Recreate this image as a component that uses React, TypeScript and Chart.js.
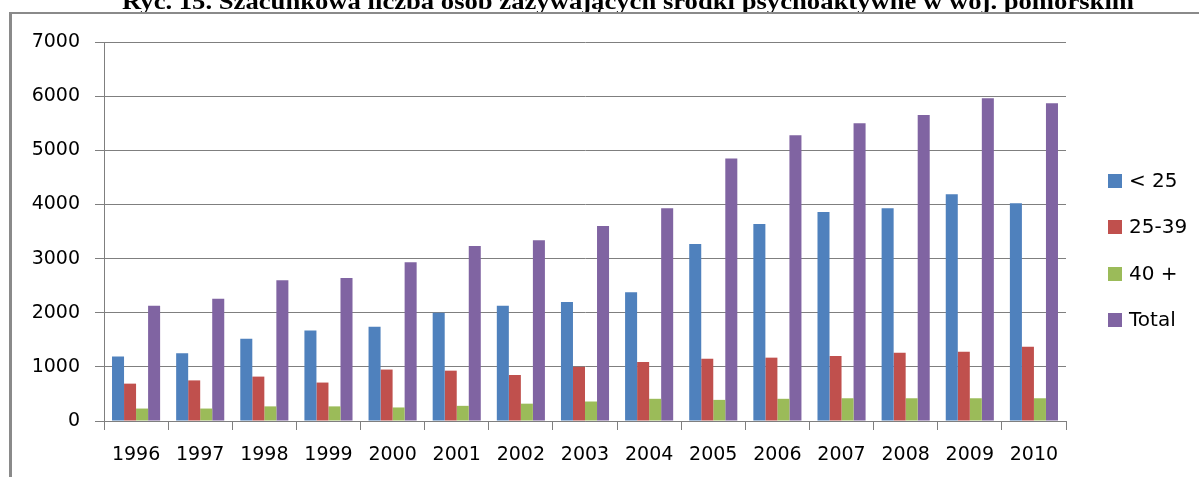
import React, { useEffect, useRef } from "react";
import { Chart, registerables } from "chart.js";

Chart.register(...registerables);

const TITLE = "Ryc. 15. Szacunkowa liczba osób zażywających środki psychoaktywne w woj. pomorskim";

const years = ["1996", "1997", "1998", "1999", "2000", "2001", "2002", "2003", "2004", "2005", "2006", "2007", "2008", "2009", "2010"];
const seriesNames = ["< 25", "25-39", "40 +", "Total"];
const under25 = [1190, 1250, 1520, 1670, 1740, 2000, 2130, 2200, 2380, 3270, 3640, 3860, 3930, 4190, 4020];
const age25to39 = [690, 750, 820, 710, 950, 930, 850, 1000, 1090, 1150, 1170, 1200, 1260, 1280, 1370];
const age40plus = [230, 230, 270, 270, 250, 280, 320, 360, 410, 390, 410, 420, 420, 420, 420];
const total = [2130, 2260, 2600, 2640, 2930, 3230, 3340, 3600, 3930, 4850, 5280, 5500, 5650, 5960, 5870];
const seriesColors = ["#4F81BD", "#C0504D", "#9BBB59", "#8064A2"];
const yMin = 0;
const yMax = 7000;
const yStep = 1000;

const GRID = "#7f7f7f";
const FONT = "DejaVu Sans";

const decorPlugin = {
  id: "decor",
  afterDraw(chart: any) {
    const ctx = chart.ctx as CanvasRenderingContext2D;
    // title (clipped at top, as in the reference)
    ctx.save();
    ctx.font = 'bold 24px "Liberation Serif"';
    const w = ctx.measureText(TITLE).width;
    ctx.translate(628, 8.5);
    ctx.scale(1012 / w, 1);
    ctx.fillStyle = "#000";
    ctx.textAlign = "center";
    ctx.textBaseline = "alphabetic";
    ctx.fillText(TITLE, 0, 0);
    ctx.restore();
    // frame
    ctx.save();
    ctx.fillStyle = "#8a8a8a";
    ctx.fillRect(9, 12, 1190, 2);
    ctx.fillRect(9, 12, 3, 465);
    // legend
    ctx.font = `20px "${FONT}"`;
    ctx.textBaseline = "middle";
    ctx.textAlign = "left";
    chart.data.datasets.forEach((ds: any, i: number) => {
      const cy = 180.5 + i * 46.5;
      ctx.fillStyle = ds.backgroundColor;
      ctx.fillRect(1108, Math.round(cy - 7), 14, 14);
      ctx.fillStyle = "#000";
      ctx.fillText(ds.label, 1129, cy + 1);
    });
    ctx.restore();
  },
};

export default function App() {
  const ref = useRef<HTMLCanvasElement | null>(null);
  useEffect(() => {
    if (!ref.current) return;
    const seriesData = [under25, age25to39, age40plus, total];
    const chart = new Chart(ref.current, {
      type: "bar",
      data: {
        labels: years,
        datasets: seriesNames.map((name, i) => ({
          label: name,
          data: seriesData[i],
          backgroundColor: seriesColors[i],
          borderWidth: 0,
          categoryPercentage: 0.75,
          barPercentage: 1,
        })),
      },
      options: {
        responsive: false,
        animation: false,
        layout: { padding: { top: 42, left: 0, right: 133, bottom: 0 } },
        plugins: {
          legend: { display: false },
          title: { display: false },
          tooltip: { enabled: false },
        },
        scales: {
          x: {
            grid: { display: true, drawOnChartArea: false, drawTicks: true, tickLength: 9, color: GRID, offset: true },
            border: { display: true, color: GRID },
            ticks: { font: { family: FONT, size: 19 }, color: "#000", padding: 14, maxRotation: 0, autoSkip: false },
            afterFit: (s: any) => {
              s.height = 56;
            },
          },
          y: {
            min: yMin,
            max: yMax,
            ticks: {
              stepSize: yStep,
              font: { family: FONT, size: 19 },
              color: "#000",
              padding: 15,
              callback: (v: any) => String(v),
            },
            grid: { color: GRID, tickLength: 9 },
            border: { display: true, color: GRID },
            afterFit: (s: any) => {
              s.width = 104;
            },
          },
        },
      },
      plugins: [decorPlugin],
    });
    return () => chart.destroy();
  }, []);
  return (
    <div style={{ position: "absolute", left: 0, top: 0, width: 1199, height: 477, background: "#fff" }}>
      <canvas ref={ref} width={1199} height={477} style={{ display: "block" }} />
    </div>
  );
}
